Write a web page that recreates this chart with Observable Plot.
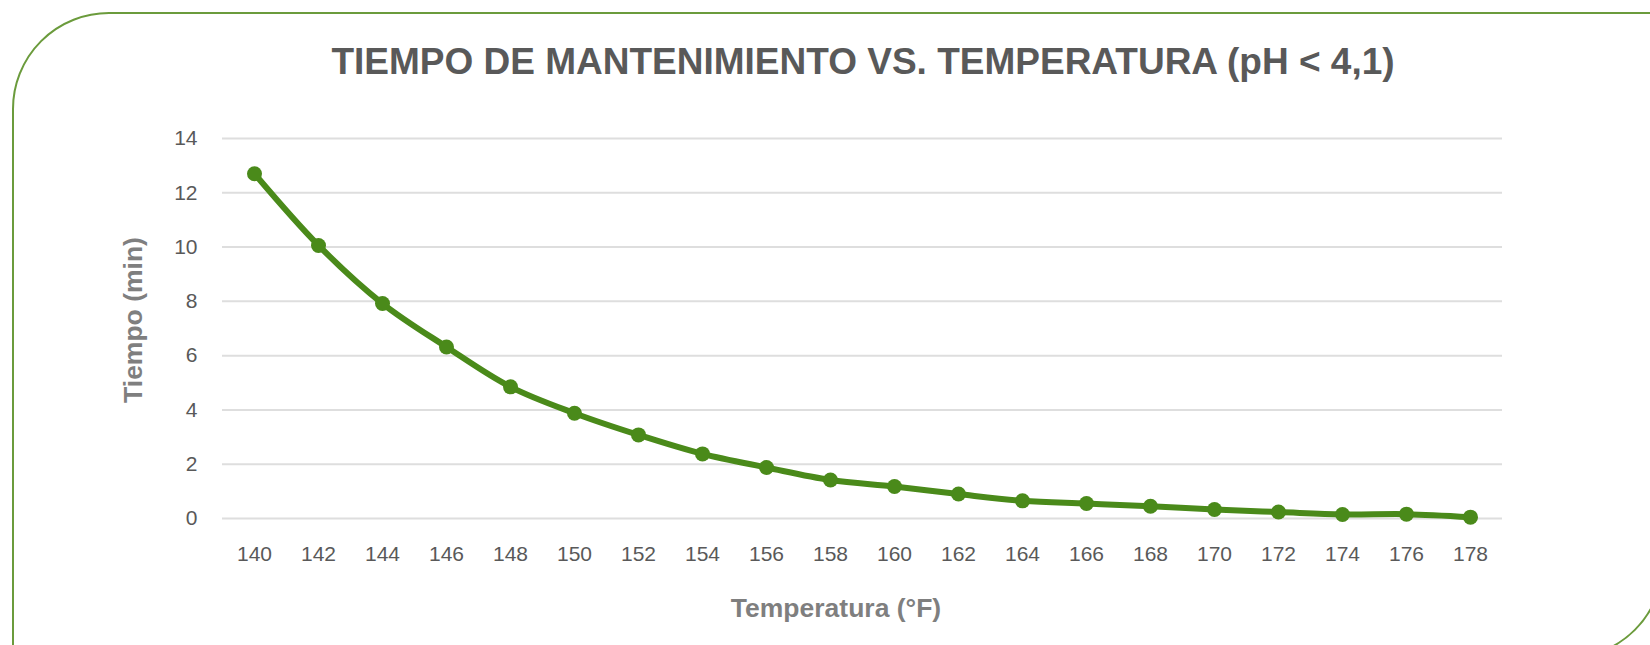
<!DOCTYPE html>
<html>
<head>
<meta charset="utf-8">
<script src="https://cdn.jsdelivr.net/npm/d3@7"></script>
<script src="https://cdn.jsdelivr.net/npm/@observablehq/plot@0.6"></script>
<style>
  html, body { margin: 0; padding: 0; background: #ffffff; }
  #wrap { position: relative; width: 1650px; height: 645px; overflow: hidden; font-family: "Liberation Sans", Arial, sans-serif; }
  #frame { position: absolute; left: 12px; top: 12px; width: 1652px; height: 647px; box-sizing: border-box;
           border: 2px solid #6b9b3c; border-top-left-radius: 97px; border-bottom-right-radius: 97px; }
  #title { position: absolute; left: 0; width: 1726px; top: 43px; text-align: center; font-size: 37px; line-height: 37px;
           font-weight: bold; color: #595959; white-space: nowrap; }
  #xtitle { position: absolute; left: 0; width: 1672px; top: 595px; text-align: center; font-size: 26.5px; line-height: 26.5px;
            font-weight: bold; color: #7f7f7f; white-space: nowrap; }
  #ytitle { position: absolute; left: 133px; top: 320px; transform: translate(-50%, -50%) rotate(-90deg);
            font-size: 26.5px; line-height: 26.5px; font-weight: bold; color: #7f7f7f; white-space: nowrap; }
  #chart { position: absolute; left: 0; top: 0; }
</style>
</head>
<body>
<div id="wrap">
  <div id="chart"></div>
  <div id="frame"></div>
  <div id="title"></div>
  <div id="xtitle"></div>
  <div id="ytitle"></div>
</div>
<script>
// ---- data ----
const titleText = "TIEMPO DE MANTENIMIENTO VS. TEMPERATURA (pH < 4,1)";
const xLabel = "Temperatura (°F)";
const yLabel = "Tiempo (min)";
const temperaturas = [140, 142, 144, 146, 148, 150, 152, 154, 156, 158, 160, 162, 164, 166, 168, 170, 172, 174, 176, 178];
const tiempos = [12.7, 10.06, 7.92, 6.32, 4.85, 3.88, 3.08, 2.38, 1.88, 1.42, 1.18, 0.9, 0.65, 0.55, 0.45, 0.33, 0.24, 0.15, 0.16, 0.05];
const yTicks = [0, 2, 4, 6, 8, 10, 12, 14];

const rows = temperaturas.map((t, i) => ({temp: String(t), tiempo: tiempos[i]}));

document.getElementById("title").textContent = titleText;
document.getElementById("xtitle").textContent = xLabel;
document.getElementById("ytitle").textContent = yLabel;

const green = "#4a8a1a";

const chart = Plot.plot({
  width: 1650,
  height: 645,
  marginLeft: 222,
  marginRight: 148,
  marginTop: 138,
  marginBottom: 127,
  style: {fontFamily: "'Liberation Sans', Arial, sans-serif", fontSize: "21px", color: "#595959", background: "transparent"},
  x: {type: "point", domain: temperaturas.map(String), padding: 0.5, label: null},
  y: {domain: [0, 14], label: null},
  marks: [
    Plot.ruleY(yTicks, {stroke: "#dedede", strokeWidth: 2}),
    Plot.axisY({ticks: yTicks, tickSize: 0, tickPadding: 25, label: null, fill: "#595959"}),
    Plot.axisX({tickSize: 0, tickPadding: 28, label: null, fill: "#595959"}),
    Plot.line(rows, {x: "temp", y: "tiempo", stroke: green, strokeWidth: 6, curve: "catmull-rom"}),
    Plot.dot(rows, {x: "temp", y: "tiempo", r: 7.5, fill: green, stroke: "none"})
  ]
});
document.getElementById("chart").appendChild(chart);
</script>
</body>
</html>
